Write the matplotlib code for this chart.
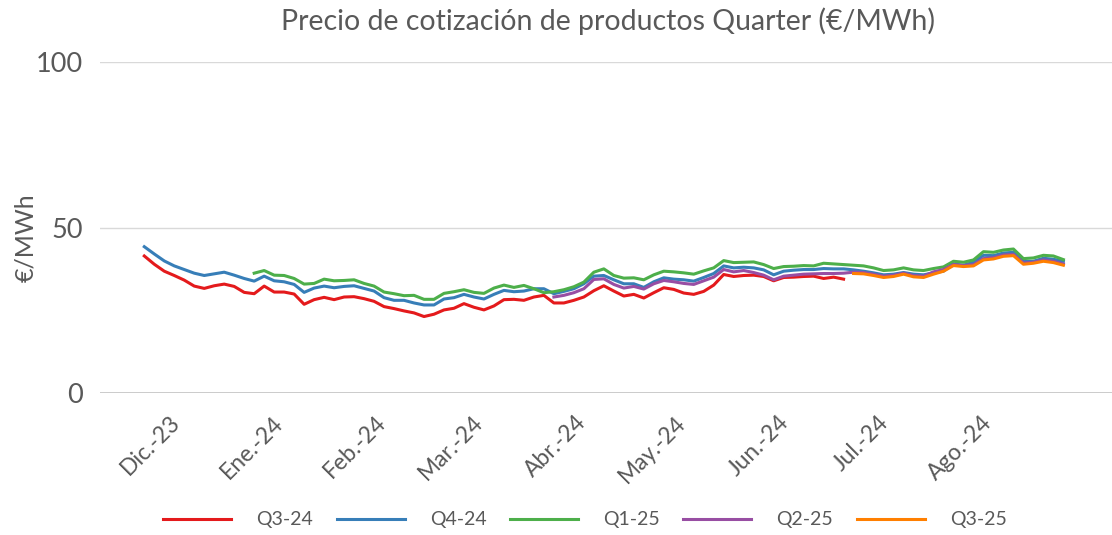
import numpy as np
import pandas as pd
import matplotlib
matplotlib.use("Agg")
import matplotlib.pyplot as plt
import matplotlib.dates as mdates
import matplotlib.transforms as mtransforms
from datetime import datetime

plt.rcParams['font.family'] = ['Lato', 'DejaVu Sans']

# ---- data ----
dates = pd.date_range('2023-11-20', periods=93, freq='3D')
nan = np.nan

q3_24 = [41.4, 38.9, 36.8, 35.5, 34.1, 32.3, 31.6, 32.4, 32.9, 32.2,
         30.4, 30.0, 32.3, 30.5, 30.5, 29.9, 26.8, 28.2, 28.9, 28.2,
         29.0, 29.1, 28.5, 27.7, 26.1, 25.5, 24.8, 24.2, 23.1, 23.8,
         25.1, 25.6, 27.0, 25.9, 25.1, 26.3, 28.2, 28.3, 28.0, 29.0,
         29.5, 27.2, 27.2, 28.0, 29.0, 30.9, 32.4, 30.8, 29.3, 29.8,
         28.7, 30.3, 31.8, 31.3, 30.2, 29.8, 30.7, 32.6, 35.8, 35.2,
         35.5, 35.6, 35.2, 33.9, 34.9, 35.0, 35.2, 35.3, 34.6, 35.0,
         34.4] + [nan] * 22

q4_24 = [44.2, 42.0, 39.9, 38.4, 37.3, 36.2, 35.5, 36.0, 36.5, 35.6,
         34.6, 33.8, 35.3, 33.9, 33.6, 32.8, 30.4, 31.7, 32.3, 31.8,
         32.2, 32.4, 31.6, 30.8, 28.8, 28.0, 28.0, 27.2, 26.6, 26.6,
         28.4, 28.8, 29.8, 29.0, 28.4, 29.8, 31.0, 30.6, 30.8, 31.5,
         31.5, 30.0, 30.7, 31.5, 33.0, 35.3, 35.5, 34.2, 33.0, 33.0,
         31.9, 33.6, 34.8, 34.4, 34.2, 33.8, 34.9, 36.1, 38.4, 37.8,
         38.0, 37.8, 37.2, 35.7, 36.8, 37.1, 37.3, 37.3, 37.6, 37.5,
         37.5, 37.2, 36.8, 36.3, 35.7, 35.9, 36.4, 35.9, 35.7, 36.3,
         36.8, 39.0, 38.6, 39.5, 41.6, 41.5, 42.3, 42.5, 39.7, 39.8,
         40.7, 40.4, 39.8]

q1_25 = [nan] * 11 + [
         36.2, 37.0, 35.6, 35.5, 34.6, 32.9, 33.1, 34.4, 33.9,
         34.0, 34.2, 33.1, 32.3, 30.5, 30.0, 29.4, 29.5, 28.3, 28.3,
         30.1, 30.6, 31.2, 30.4, 30.1, 31.7, 32.6, 31.9, 32.5, 31.5,
         30.3, 30.6, 31.2, 32.1, 33.5, 36.5, 37.5, 35.5, 34.7, 34.8,
         34.2, 35.7, 36.8, 36.6, 36.3, 35.9, 36.9, 37.8, 40.0, 39.4,
         39.5, 39.6, 38.8, 37.6, 38.2, 38.3, 38.5, 38.4, 39.2, 39.0,
         38.8, 38.6, 38.4, 37.8, 37.0, 37.2, 37.8, 37.2, 37.0, 37.6,
         38.1, 39.8, 39.5, 40.2, 42.7, 42.5, 43.2, 43.5, 40.6, 40.8,
         41.6, 41.4, 40.3]

q2_25 = [nan] * 41 + [
         29.0, 29.5, 30.3, 31.5, 34.3, 34.5, 32.8, 31.7, 32.2,
         31.4, 33.0, 34.0, 33.6, 33.1, 32.8, 33.9, 35.0, 37.3, 36.6,
         37.0, 36.4, 35.6, 34.2, 35.3, 35.6, 35.9, 36.0, 36.1, 36.1,
         36.2, 36.5, 36.4, 35.9, 35.3, 35.6, 36.2, 35.5, 35.3, 36.6,
         37.3, 38.8, 38.5, 38.8, 40.6, 40.9, 41.7, 41.9, 39.3, 39.5,
         40.2, 39.8, 39.0]

q3_25 = [nan] * 71 + [
         36.1, 36.0, 35.5, 34.9, 35.2, 35.9, 35.1, 34.9, 35.9,
         36.8, 38.5, 38.2, 38.4, 40.2, 40.5, 41.3, 41.5, 38.9, 39.2,
         39.8, 39.4, 38.6]

series_names = ['Q3-24', 'Q4-24', 'Q1-25', 'Q2-25', 'Q3-25']
series_values = [q3_24, q4_24, q1_25, q2_25, q3_25]
series_colors = ['#e41a1c', '#377eb8', '#4daf4a', '#984ea3', '#ff7f00']

tick_dates = pd.date_range('2023-12-01', periods=9, freq='MS')
tick_labels = ['Dic.-23', 'Ene.-24', 'Feb.-24', 'Mar.-24', 'Abr.-24',
               'May.-24', 'Jun.-24', 'Jul.-24', 'Ago.-24']
y_ticks = [0, 50, 100]

title = 'Precio de cotización de productos Quarter (€/MWh)'
ylabel = '€/MWh'

# ---- figure ----
txt = '#595959'
fig = plt.figure(figsize=(11.12, 5.35), dpi=100)
ax = fig.add_axes([100 / 1112, 1 - 393 / 535, 1 - 100 / 1112, (393 - 62) / 535])

for name, vals, col in zip(series_names, series_values, series_colors):
    ax.plot(dates, vals, color=col, lw=2.2, label=name, solid_joinstyle='round')

d0 = mdates.date2num(datetime(2023, 12, 1))
ax.set_xlim(d0 - 24.3, d0 + 279.6)
ax.set_ylim(0, 100)
ax.set_yticks(y_ticks)
ax.set_yticklabels([str(v) for v in y_ticks], fontsize=19.5, color=txt)
tick_nums = mdates.date2num(tick_dates.to_pydatetime())
ax.set_xticks(tick_nums)
ax.set_xticklabels([])
shift = mtransforms.ScaledTranslation(-12 / 100, -19 / 100, fig.dpi_scale_trans)
for xv, lab in zip(tick_nums, tick_labels):
    ax.text(xv, 0, lab, transform=ax.get_xaxis_transform() + shift,
            rotation=45, ha='right', va='top', rotation_mode='anchor',
            fontsize=16.5, color=txt, clip_on=False)
ax.tick_params(axis='y', length=0, pad=12)
ax.tick_params(axis='x', length=0)
for s in ax.spines.values():
    s.set_visible(False)
ax.grid(axis='y', color='#d9d9d9', lw=1)
ax.set_axisbelow(True)
ax.axhline(0, color='#bfbfbf', lw=1.2, zorder=0.5)

fig.text(26 / 1112, 1 - 238 / 535, ylabel, rotation=90, ha='center', va='center',
         fontsize=18, color=txt)
fig.text(608 / 1112, 1 - 21 / 535, title, ha='center', va='center',
         fontsize=20.5, color=txt)

fig.legend(loc='center', bbox_to_anchor=(585 / 1112, 1 - 520 / 535), ncol=5,
           frameon=False, fontsize=14, handlelength=3.5, handletextpad=1.3,
           columnspacing=1.2, labelcolor=txt)

fig.savefig('out.png', dpi=100)
